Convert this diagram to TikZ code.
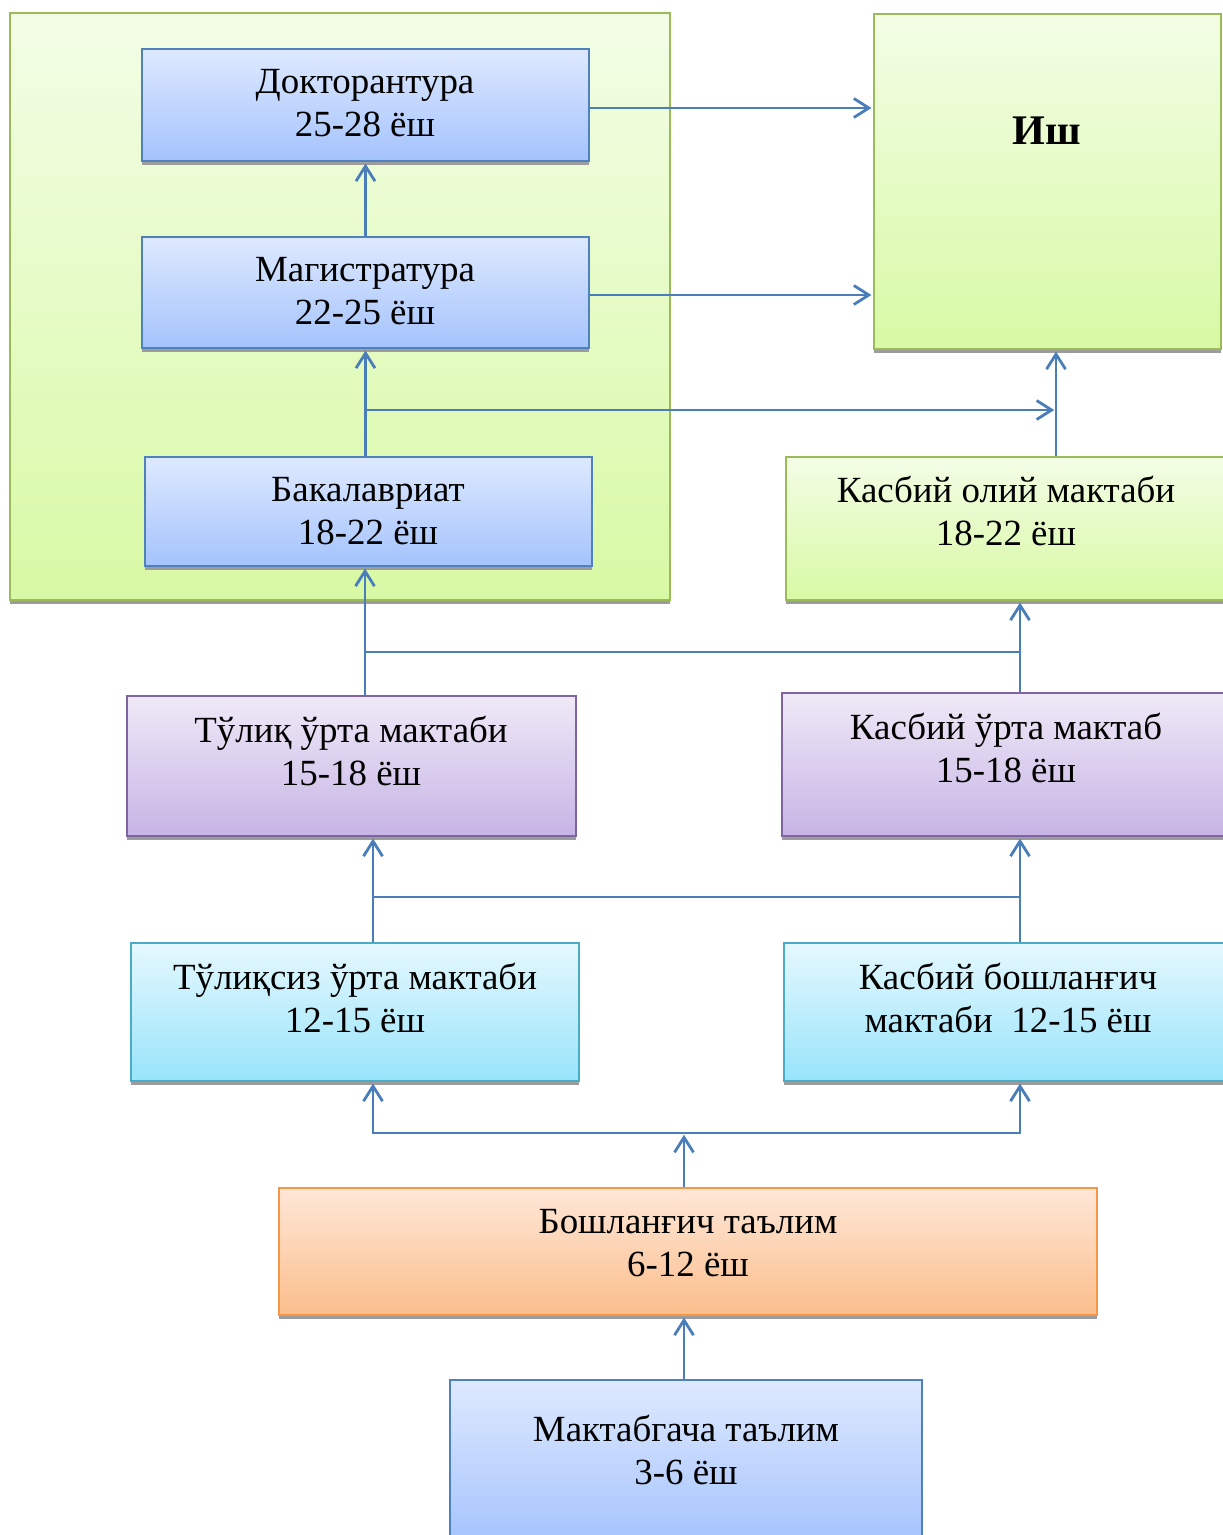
\documentclass[tikz,border=0pt]{standalone}
\usepackage{fontspec}
\setmainfont{Liberation Serif}
\usetikzlibrary{fit,shadows,arrows.meta}

\definecolor{linkblue}{HTML}{4A7EBB}
\definecolor{shadowgray}{HTML}{9C9C9C}
\definecolor{greenline}{HTML}{9BBB59}
\definecolor{greentop}{HTML}{F3FDE6}
\definecolor{greenbot}{HTML}{D8F9A4}
\definecolor{blueline}{HTML}{4F81BD}
\definecolor{bluetop}{HTML}{DEE9FE}
\definecolor{bluebot}{HTML}{A4C3FD}
\definecolor{purpleline}{HTML}{8064A2}
\definecolor{purpletop}{HTML}{EFE9F7}
\definecolor{purplebot}{HTML}{C7B4E5}
\definecolor{cyanline}{HTML}{4BACC6}
\definecolor{cyantop}{HTML}{E5F8FE}
\definecolor{cyanbot}{HTML}{98E4FA}
\definecolor{orangeline}{HTML}{F79646}
\definecolor{orangetop}{HTML}{FEE7D7}
\definecolor{orangebot}{HTML}{FBBE8C}

\tikzset{
  box/.style={draw, line width=0.9pt, inner sep=0pt,
    drop shadow={shadow xshift=0pt, shadow yshift=-0.08cm, fill=shadowgray, opacity=1}},
  greenbox/.style={box, draw=greenline, top color=greentop, bottom color=greenbot},
  bluebox/.style={box, draw=blueline, top color=bluetop, bottom color=bluebot},
  purplebox/.style={box, draw=purpleline, top color=purpletop, bottom color=purplebot},
  cyanbox/.style={box, draw=cyanline, top color=cyantop, bottom color=cyanbot},
  orangebox/.style={box, draw=orangeline, top color=orangetop, bottom color=orangebot},
  txt/.style={align=center, inner sep=0pt, font=\fontsize{21}{24.4}\selectfont},
  link/.style={draw=linkblue, line width=1.6pt},
  arr/.style={link, -{Straight Barb[length=0.3cm, width=0.38cm]}, shorten >=1pt}
}

\begin{document}
\begin{tikzpicture}[x=0.02cm, y=-0.02cm]
  \useasboundingbox (0,0) rectangle (1223,1535);
  \clip (0,0) rectangle (1223,1535);

  % higher education block
  \node[greenbox, fit={(10,13) (670,600)}] (oliy) {};
  \node[bluebox, fit={(142,49) (589,161)}] (doct) {};
  \node[txt] (doctT) at (365,103) {Докторантура\\25-28 ёш};
  \node[bluebox, fit={(142,237) (589,348)}] (mag) {};
  \node[txt] (magT) at (365,291) {Магистратура\\22-25 ёш};
  \node[bluebox, fit={(145,457) (592,566)}] (bak) {};
  \node[txt] (bakT) at (368,511) {Бакалавриат\\18-22 ёш};

  % work
  \node[greenbox, fit={(874,14) (1221,349)}] (ish) {};
  \node[txt, font=\fontsize{24}{28}\selectfont\bfseries] (ishT) at (1047,131) {Иш};

  % right column
  \node[greenbox, fit={(786,457) (1226,600)}] (kol) {};
  \node[txt] (kolT) at (1006,511) {Касбий олий мактаби\\18-22 ёш};
  \node[purplebox, fit={(782,693) (1230,836)}] (kurt) {};
  \node[txt] (kurtT) at (1006,748) {Касбий ўрта мактаб\\15-18 ёш};
  \node[cyanbox, fit={(784,943) (1232,1081)}] (kbosh) {};
  \node[txt] (kboshT) at (1008,998) {Касбий бошланғич\\мактаби\ \ 12-15 ёш};

  % left column
  \node[purplebox, fit={(127,696) (576,836)}] (tul) {};
  \node[txt] (tulT) at (351,751) {Тўлиқ ўрта мактаби\\15-18 ёш};
  \node[cyanbox, fit={(131,943) (579,1081)}] (tsiz) {};
  \node[txt] (tsizT) at (355,998) {Тўлиқсиз ўрта мактаби\\12-15 ёш};

  % bottom
  \node[orangebox, fit={(279,1188) (1097,1315)}] (bosh) {};
  \node[txt] (boshT) at (688,1243) {Бошланғич таълим\\6-12 ёш};
  \node[bluebox, fit={(450,1380) (922,1545)}] (makt) {};
  \node[txt] (maktT) at (686,1450) {Мактабгача таълим\\3-6 ёш};

  % junctions
  \coordinate (vx) at (1056,0);
  \coordinate (j1) at (365,410);
  \coordinate (j2) at (365,652);
  \coordinate (j2r) at (1020,652);
  \coordinate (j3) at (373,897);
  \coordinate (j3r) at (1020,897);
  \coordinate (j4) at (373,1133);
  \coordinate (j4r) at (1020,1133);
  \coordinate (j4c) at (684,1133);

  \draw[arr] ([yshift=-0.06cm]doct.east) -- ([yshift=-0.06cm]doct.east -| ish.west);
  \draw[arr] ([yshift=-0.05cm]mag.east) -- ([yshift=-0.05cm]mag.east -| ish.west);
  \draw[arr] (mag.north) -- (doct.south);
  \draw[arr] (bak.north -| mag.south) -- (mag.south);
  \draw[arr] (j1) -- (j1 -| vx);
  \draw[arr] (kol.north -| vx) -- (ish.south -| vx);

  \draw[arr] (tul.north -| j2) -- (bak.south -| j2);
  \draw[link] (j2) -- (j2r);
  \draw[arr] (kurt.north -| j2r) -- (kol.south -| j2r);

  \draw[arr] (tsiz.north -| j3) -- (tul.south -| j3);
  \draw[link] (j3) -- (j3r);
  \draw[arr] (kbosh.north -| j3r) -- (kurt.south -| j3r);

  \draw[arr] (bosh.north -| j4c) -- (j4c);
  \draw[arr] (j4r) -- (j4) -- (tsiz.south -| j4);
  \draw[arr] (j4) -- (j4r) -- (kbosh.south -| j4r);
  \draw[arr] (makt.north -| j4c) -- (bosh.south -| j4c);
\end{tikzpicture}
\end{document}
